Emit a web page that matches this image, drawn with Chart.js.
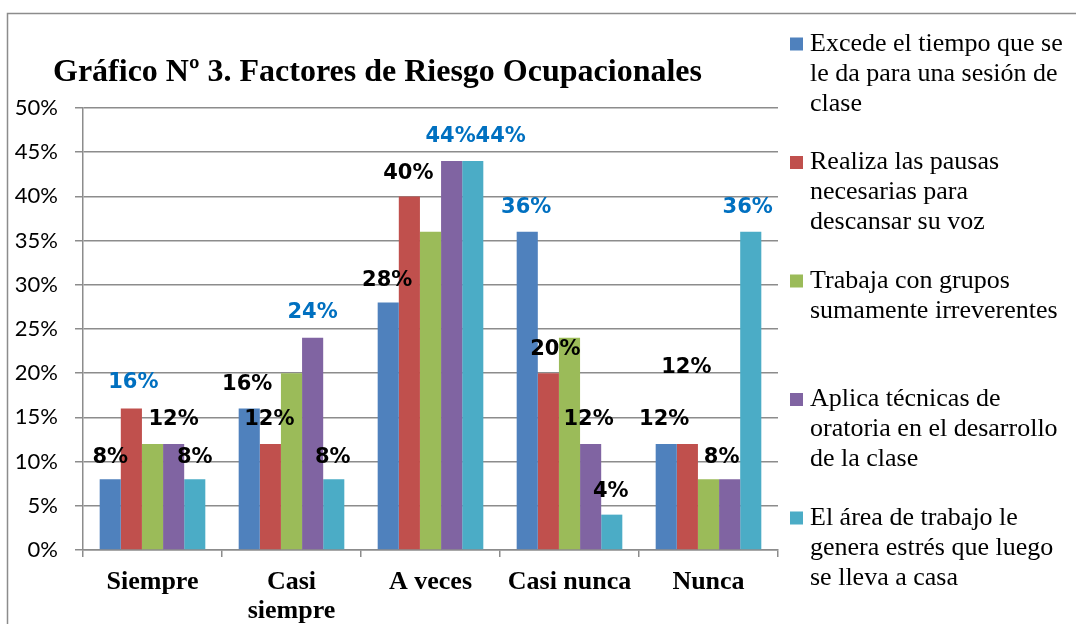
<!DOCTYPE html>
<html><head><meta charset="utf-8">
<script src="https://cdn.jsdelivr.net/npm/chart.js@4.4.1/dist/chart.umd.min.js"></script>
<style>html,body{margin:0;padding:0;background:#fff}#wrap{width:1076px;height:624px;position:relative}</style>
</head><body><div id="wrap"><canvas id="c" width="1076" height="624"></canvas></div>
<script>
const chartTitle = 'Gráfico Nº 3. Factores de Riesgo Ocupacionales';
const categories = ['Siempre', ['Casi', 'siempre'], 'A veces', 'Casi nunca', 'Nunca'];
const yTickValues = [0, 5, 10, 15, 20, 25, 30, 35, 40, 45, 50];

const excedeTiempo = [8, 16, 28, 36, 12];
const pausasVoz = [16, 12, 40, 20, 12];
const gruposIrreverentes = [12, 20, 36, 24, 8];
const tecnicasOratoria = [12, 24, 44, 12, 8];
const estresCasa = [8, 8, 44, 4, 36];

const seriesNames = [
  ['Excede el tiempo que se', 'le da para una sesión de', 'clase'],
  ['Realiza las pausas', 'necesarias para', 'descansar su voz'],
  ['Trabaja con grupos', 'sumamente irreverentes'],
  ['Aplica técnicas de', 'oratoria en el desarrollo', 'de la clase'],
  ['El área de trabajo le', 'genera estrés que luego', 'se lleva a casa']
];
const seriesColors = ['#4F81BD', '#C0504D', '#9BBB59', '#8064A2', '#4BACC6'];

// label styling (null = hidden): [colour, dx, dy] relative to bar top
const K = '#000000', B = '#0070C0';
const labelStyles = [
  [[K, 0, -22], [K, -2, -24], [K, -1, -22], [B, -1, -24], [K, -2, -24]],
  [[B, 2, -26], [K, -1, -24], [K, -1, -23], [K, 7, -24], [K, -1, -76]],
  [null, null, null, null, null],
  [[K, 0, -24], [B, 0, -25], [B, -1, -24], [K, -2, -24], [K, -8, -22]],
  [[K, 0, -22], [K, -1, -22], [B, 28, -24], [K, -1, -23], [B, -3, -24]]
];

const seriesValues = [excedeTiempo, pausasVoz, gruposIrreverentes, tecnicasOratoria, estresCasa];
const gridColor = '#8c8c8c';

const decorPlugin = {
  id: 'decor',
  beforeDraw(chart) {
    const ctx = chart.ctx;
    ctx.save();
    ctx.fillStyle = '#fff';
    ctx.fillRect(0, 0, chart.width, chart.height);
    ctx.strokeStyle = '#8c8c8c';
    ctx.lineWidth = 1.5;
    ctx.strokeRect(7.5, 13.5, chart.width + 10, chart.height + 10);
    ctx.restore();
  },
  afterDatasetsDraw(chart) {
    const ctx = chart.ctx;
    ctx.save();
    ctx.font = 'bold 21px "DejaVu Sans"';
    ctx.textAlign = 'center';
    ctx.textBaseline = 'middle';
    chart.data.datasets.forEach((ds, i) => {
      const meta = chart.getDatasetMeta(i);
      meta.data.forEach((bar, j) => {
        const st = labelStyles[i][j];
        if (!st) return;
        ctx.fillStyle = st[0];
        ctx.fillText(ds.data[j] + '%', bar.x + st[1], bar.y + st[2]);
      });
    });
    ctx.restore();
  },
  afterDraw(chart) {
    const ctx = chart.ctx;
    ctx.save();
    ctx.fillStyle = '#000';
    ctx.font = 'bold 32px "Liberation Serif"';
    ctx.textAlign = 'left';
    ctx.textBaseline = 'middle';
    ctx.fillText(chartTitle, 53, 73);
    // legend
    ctx.font = '26px "Liberation Serif"';
    seriesNames.forEach((lines, i) => {
      const y0 = 44 + i * 118.5;
      ctx.fillStyle = seriesColors[i];
      ctx.fillRect(790, y0 - 6.5, 13, 13);
      ctx.fillStyle = '#000';
      lines.forEach((t, k) => ctx.fillText(t, 810, y0 + k * 30));
    });
    ctx.restore();
  }
};

new Chart(document.getElementById('c'), {
  type: 'bar',
  data: {
    labels: categories,
    datasets: seriesValues.map((vals, i) => ({
      label: seriesNames[i].join(' '),
      data: vals,
      backgroundColor: seriesColors[i],
      borderWidth: 0,
      categoryPercentage: 0.76,
      barPercentage: 1
    }))
  },
  options: {
    responsive: false,
    devicePixelRatio: 1,
    animation: false,
    layout: { padding: { left: 8, right: 298, top: 108, bottom: 0 } },
    plugins: { legend: { display: false }, title: { display: false }, tooltip: { enabled: false } },
    scales: {
      x: {
        grid: { offset: true, drawOnChartArea: false, tickLength: 7, color: gridColor, lineWidth: 1.5 },
        border: { color: gridColor, width: 1.5 },
        ticks: { font: { family: 'Liberation Serif', weight: 'bold', size: 26, lineHeight: 1.12 }, color: '#000', padding: 11, maxRotation: 0, autoSkip: false },
        afterFit(s) { s.height = 74; }
      },
      y: {
        min: yTickValues[0],
        max: yTickValues[yTickValues.length - 1],
        afterBuildTicks(s) { s.ticks = yTickValues.map(v => ({ value: v })); },
        ticks: { callback: v => v + '%', font: { family: 'Lato', size: 22 }, color: '#000', padding: 17 },
        grid: { color: gridColor, lineWidth: 1.5, tickLength: 8 },
        border: { color: gridColor, width: 1.5 },
        afterFit(s) { s.width = 75; }
      }
    }
  },
  plugins: [decorPlugin]
});
</script>
</body></html>
